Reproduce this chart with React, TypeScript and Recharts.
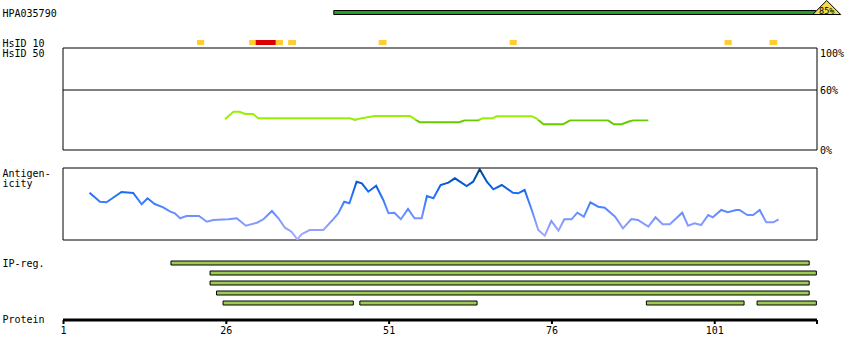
import React from "react";
import {
  ComposedChart,
  Line,
  XAxis,
  YAxis,
  ReferenceArea,
  ReferenceLine,
  ReferenceDot,
} from "recharts";

// protein coordinates (residues)
const proteinStart = 0.92;
const proteinEnd = 116.7;
const proteinTicks = [1, 26, 51, 76, 101];

// antibody coverage
const antibodyName = "HPA035790";
const antibodyFrom = 42.5;
const antibodyTo = 116.5;
const antibodyIdentity = "85%";

// HsID 10 hits
const hsid10From = [21.5, 29.5, 30.5, 33.6, 35.5, 49.4, 69.5, 102.5, 109.4];
const hsid10To = [22.6, 30.5, 33.6, 34.7, 36.7, 50.6, 70.6, 103.6, 110.6];
const hsid10High = [false, false, true, false, false, false, false, false, false];

// HsID 50 identity (%)
const hsidPos = [25.8, 27.1, 28.0, 28.9, 30.1, 30.9, 45.0, 45.7, 46.8, 48.8, 54.2, 55.0, 55.7, 61.8, 62.6, 64.6, 65.4, 66.9, 67.5, 72.9, 73.6, 74.7, 77.7, 78.8, 84.6, 85.5, 86.7, 87.7, 88.5, 90.8];
const hsidVal = [30.7, 38.3, 38.3, 36, 36, 31.7, 31.7, 30.2, 31.7, 34, 34, 30.7, 27.7, 27.7, 29.7, 29.7, 31.7, 31.7, 33.7, 33.7, 31.7, 25.7, 25.7, 29.7, 29.7, 25.7, 25.7, 28.3, 29.7, 29.7];
const hsidTicks = [0, 60, 100];

// antigenicity score
const antigenPos = [5.0, 6.6, 7.6, 9.9, 11.7, 13.0, 13.9, 15.0, 16.3, 17.4, 18.1, 18.9, 19.9, 21.8, 23.0, 24.0, 26.3, 27.6, 29.0, 30.7, 31.7, 33.0, 34.0, 35.0, 36.0, 36.9, 37.6, 38.8, 40.9, 42.4, 43.2, 44.1, 44.9, 46.0, 46.8, 47.8, 49.0, 50.1, 50.9, 51.8, 52.8, 53.9, 54.9, 56.0, 56.8, 57.8, 58.9, 60.1, 61.1, 62.9, 63.9, 64.9, 66.0, 67.0, 68.3, 70.0, 70.8, 71.8, 72.9, 73.9, 74.9, 75.9, 77.0, 77.9, 79.0, 79.9, 80.9, 81.9, 83.1, 84.1, 85.7, 86.9, 88.2, 89.2, 90.8, 91.9, 93.0, 94.1, 96.0, 96.9, 97.9, 98.9, 100.0, 100.7, 102.0, 103.0, 104.3, 104.8, 106.0, 106.9, 107.9, 108.9, 110.0, 110.8];
const antigenVal = [47.3, 38.3, 37.7, 48, 47, 35.7, 41.7, 36, 32.7, 28.3, 26.7, 21.7, 24, 24, 18.3, 20, 20.7, 21.7, 14.3, 17.3, 20.7, 29, 21.7, 12.3, 8.3, 0.7, 6, 10, 10, 20.7, 26.7, 38.3, 36.7, 58.3, 56.7, 48.3, 54.3, 40, 26.7, 27.3, 20.7, 31, 21.7, 21.7, 44, 41.7, 55, 57.3, 61.7, 54, 58.3, 70.7, 58.3, 50.7, 55, 47.3, 46.7, 50, 30, 10, 4.3, 19, 9.3, 20.7, 20.7, 27.3, 23.3, 37.7, 33.3, 32.3, 23.3, 11.7, 21, 20, 13.3, 22.7, 15.7, 15.7, 27.3, 14.3, 16.7, 15, 25, 22.7, 30, 27.7, 30, 30, 25, 25, 30, 17.7, 17.7, 20.7];

// IP regions
const ipRow = [1, 2, 3, 4, 5, 5, 5, 5];
const ipFrom = [17.5, 23.5, 23.5, 24.5, 25.5, 46.5, 90.5, 107.5];
const ipTo = [115.5, 116.6, 115.5, 115.5, 45.5, 64.5, 105.5, 116.6];

const W = 850;
const LEFT = 63;
const RIGHT = 33;
const FONT = "'DejaVu Sans Mono', 'Liberation Mono', monospace";
const X_DOMAIN: [number, number] = [proteinStart, proteinEnd];

const hsidData = hsidPos.map((x, i) => ({ x, v: hsidVal[i] }));
const antigenData = antigenPos.map((x, i) => ({ x, v: antigenVal[i] }));

function At({ top, children }: { top: number; children: React.ReactNode }) {
  return <div style={{ position: "absolute", left: 0, top }}>{children}</div>;
}

function IdentityFlag(props: any) {
  const { cx, cy } = props;
  const mx = cx + 11;
  return (
    <g>
      <polygon
        points={`${cx - 3},${cy + 2} ${mx},${cy - 12} ${cx + 25},${cy + 2}`}
        fill="#f2d94e"
        stroke="#000"
        strokeWidth={1}
      />
      <text x={mx} y={cy + 1} textAnchor="middle" fontSize={8.5} fontFamily={FONT} fill="#000">
        {antibodyIdentity}
      </text>
    </g>
  );
}

function PctTick(props: any) {
  const { x, y, payload } = props;
  return (
    <text x={x} y={Math.max(y, 6.5)} dy="0.355em" fontSize={10} fontFamily={FONT} fill="#000" textAnchor="start">
      {payload.value}%
    </text>
  );
}

function HiddenX() {
  return <XAxis type="number" dataKey="x" domain={X_DOMAIN} hide allowDataOverflow />;
}

export default function App() {
  const labels: [string, number][] = [
    [antibodyName, 16.6],
    ["HsID 10", 46.6],
    ["HsID 50", 56.6],
    ["Antigen-", 177.2],
    ["icity", 187.2],
    ["IP-reg.", 267.2],
    ["Protein", 323.3],
  ];
  return (
    <div style={{ position: "absolute", left: 0, top: 0, width: W, height: 360, background: "#fff" }}>
      {/* antibody */}
      <At top={0}>
        <ComposedChart width={W} height={16} margin={{ top: 10.5, bottom: 1.5, left: LEFT, right: RIGHT }}>
          {HiddenX()}
          <YAxis type="number" domain={[0, 1]} hide allowDataOverflow />
          <ReferenceArea x1={antibodyFrom} x2={antibodyTo} fill="#23a023" fillOpacity={1} stroke="#000" strokeWidth={1} ifOverflow="visible" />
          <ReferenceDot x={antibodyTo} y={0.5} ifOverflow="visible" shape={IdentityFlag} />
        </ComposedChart>
      </At>

      {/* HsID 10 */}
      <At top={40}>
        <ComposedChart width={W} height={5} margin={{ top: 0, bottom: 0, left: LEFT, right: RIGHT }}>
          {HiddenX()}
          <YAxis type="number" domain={[0, 1]} hide allowDataOverflow />
          {hsid10From.map((f, i) => (
            <ReferenceArea key={i} x1={f} x2={hsid10To[i]} fill={hsid10High[i] ? "#dd0000" : "#ffcc33"} fillOpacity={1} stroke="none" />
          ))}
        </ComposedChart>
      </At>

      {/* HsID 50 */}
      <At top={47}>
        <ComposedChart width={W} height={112} data={hsidData} margin={{ top: 1, bottom: 9, left: LEFT, right: 0 }}>
          <defs>
            <linearGradient id="hsidGrad" gradientUnits="userSpaceOnUse" x1={0} y1={1} x2={0} y2={103}>
              <stop offset={0} stopColor="#99f000" />
              <stop offset={0.706} stopColor="#99f000" />
              <stop offset={0.706} stopColor="#66cc00" />
              <stop offset={1} stopColor="#66cc00" />
            </linearGradient>
          </defs>
          {HiddenX()}
          <YAxis
            orientation="right"
            type="number"
            width={33}
            domain={[0, 102]}
            ticks={hsidTicks}
            interval={0}
            axisLine={false}
            tickLine={false}
            tickSize={0}
            tickMargin={3}
            tick={PctTick}
            allowDataOverflow
          />
          <ReferenceArea x1={proteinStart} x2={proteinEnd} y1={0} y2={102} fill="none" fillOpacity={0} stroke="#000" strokeWidth={1} />
          <ReferenceLine y={60} stroke="#000" strokeWidth={1} />
          <Line type="linear" dataKey="v" stroke="url(#hsidGrad)" strokeWidth={2} dot={false} isAnimationActive={false} />
        </ComposedChart>
      </At>

      {/* antigenicity */}
      <At top={167}>
        <ComposedChart width={W} height={74} data={antigenData} margin={{ top: 1, bottom: 1, left: LEFT, right: RIGHT }}>
          <defs>
            <linearGradient id="agGrad" gradientUnits="userSpaceOnUse" x1={0} y1={1} x2={0} y2={73}>
              <stop offset={0} stopColor="#003a7a" />
              <stop offset={0.167} stopColor="#0055c4" />
              <stop offset={0.333} stopColor="#1a6cf5" />
              <stop offset={0.5} stopColor="#4080ff" />
              <stop offset={0.667} stopColor="#7090ff" />
              <stop offset={0.833} stopColor="#90a0ff" />
              <stop offset={1} stopColor="#b0a8ff" />
            </linearGradient>
          </defs>
          {HiddenX()}
          <YAxis type="number" domain={[0, 72]} hide allowDataOverflow />
          <ReferenceArea x1={proteinStart} x2={proteinEnd} y1={0} y2={72} fill="none" fillOpacity={0} stroke="#000" strokeWidth={1} />
          <Line type="linear" dataKey="v" stroke="url(#agGrad)" strokeWidth={2} dot={false} isAnimationActive={false} />
        </ComposedChart>
      </At>

      {/* IP regions */}
      <At top={257.5}>
        <ComposedChart width={W} height={50} margin={{ top: 0, bottom: 0, left: LEFT, right: RIGHT }}>
          {HiddenX()}
          <YAxis type="number" domain={[0.5, 5.5]} reversed hide allowDataOverflow />
          {ipFrom.map((f, i) => (
            <ReferenceArea key={i} x1={f} x2={ipTo[i]} y1={ipRow[i] - 0.2} y2={ipRow[i] + 0.2} fill="#9dcb56" fillOpacity={1} stroke="#000" strokeWidth={1} ifOverflow="visible" />
          ))}
        </ComposedChart>
      </At>

      {/* protein axis */}
      <At top={300}>
        <ComposedChart width={W} height={50} margin={{ top: 0, bottom: 0, left: LEFT, right: RIGHT }}>
          <XAxis
            type="number"
            dataKey="x"
            domain={X_DOMAIN}
            ticks={[...proteinTicks, proteinEnd]}
            interval={0}
            height={30}
            axisLine={{ stroke: "#000", strokeWidth: 3 }}
            tickLine={{ stroke: "#000", strokeWidth: 2 }}
            tickSize={4}
            tickMargin={3}
            tick={{ fontSize: 10, fill: "#000", fontFamily: FONT }}
            tickFormatter={(v: number) => (v === proteinEnd ? "" : String(v))}
            allowDataOverflow
          />
          <YAxis type="number" domain={[0, 1]} hide allowDataOverflow />
        </ComposedChart>
      </At>

      <svg width={W} height={360} style={{ position: "absolute", left: 0, top: 0, pointerEvents: "none" }}>
        {labels.map(([t, y]) => (
          <text key={t} x={2.5} y={y} fontSize={10} fontFamily={FONT} fill="#000">
            {t}
          </text>
        ))}
      </svg>
    </div>
  );
}
